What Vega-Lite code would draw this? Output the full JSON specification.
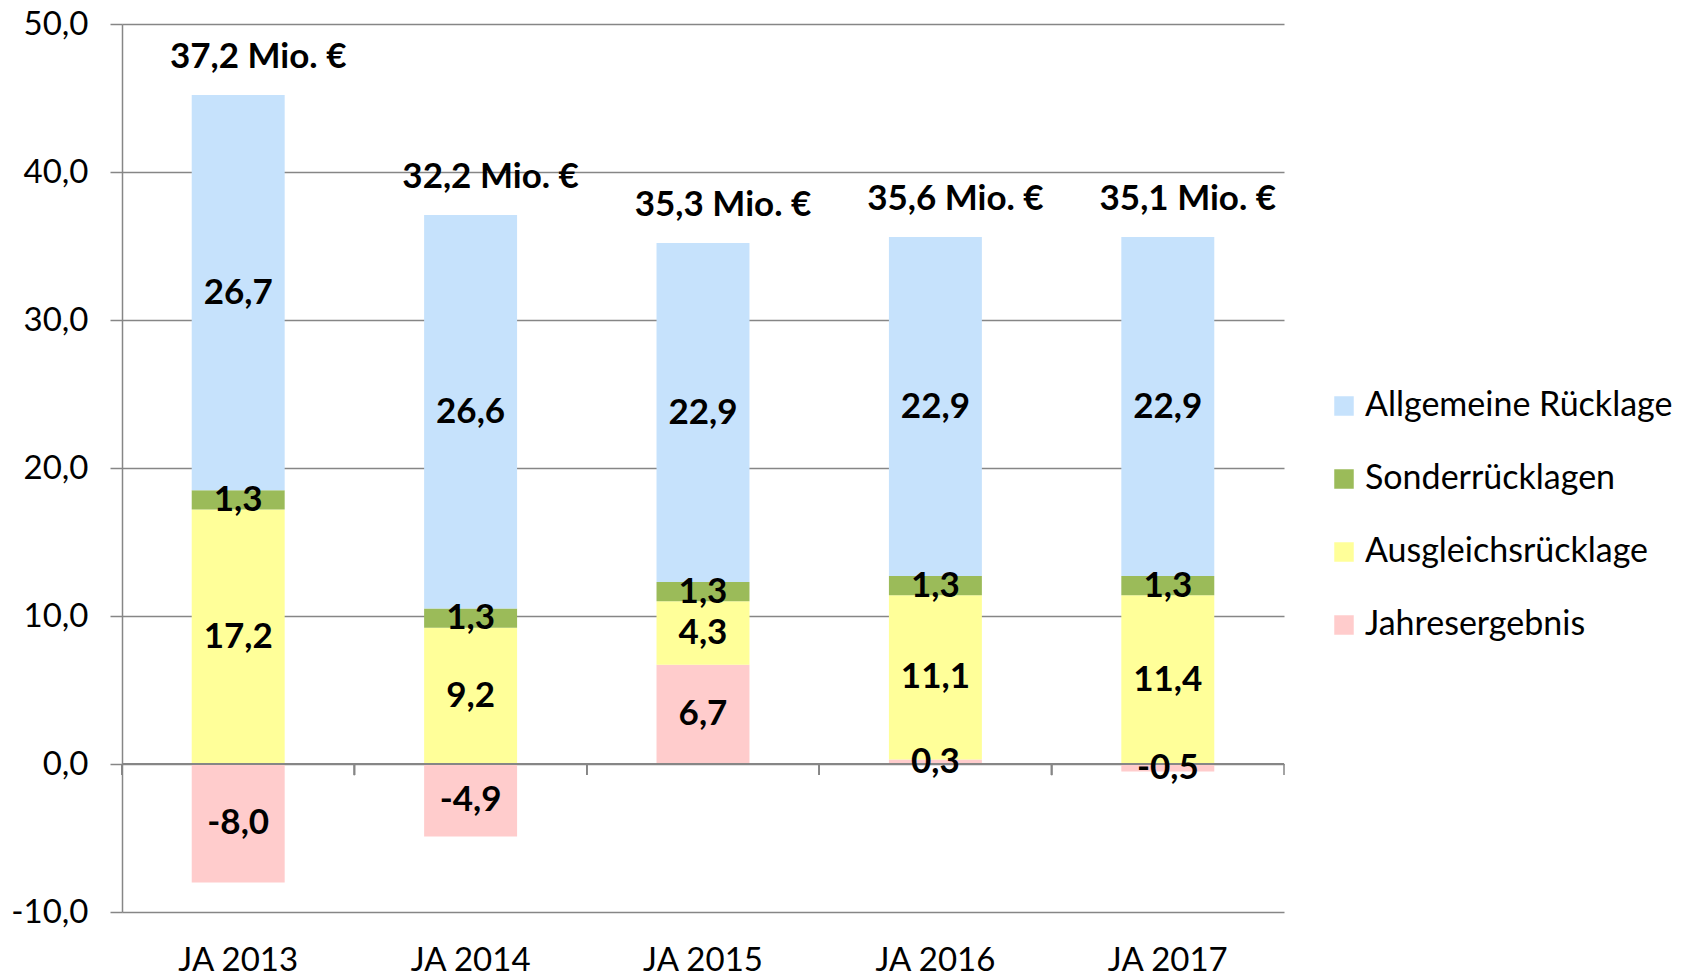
{
  "$schema": "https://vega.github.io/schema/vega-lite/v6.json",
  "width": 1162,
  "height": 888,
  "autosize": {"type": "none"},
  "padding": {"left": 122, "top": 24, "right": 405, "bottom": 65},
  "config": {
    "locale": {"number": {"decimal": ",", "thousands": ".", "grouping": [3], "currency": ["", " Mio. €"], "minus": "-"}},
    "font": "Lato",
    "view": {"stroke": null}
  },
  "datasets": {
    "segments": [
      {"year": "JA 2013", "cat": "Jahresergebnis", "value": -8.0, "order": 1},
      {"year": "JA 2013", "cat": "Ausgleichsrücklage", "value": 17.2, "order": 2},
      {"year": "JA 2013", "cat": "Sonderrücklagen", "value": 1.3, "order": 3},
      {"year": "JA 2013", "cat": "Allgemeine Rücklage", "value": 26.7, "order": 4},
      {"year": "JA 2014", "cat": "Jahresergebnis", "value": -4.9, "order": 1},
      {"year": "JA 2014", "cat": "Ausgleichsrücklage", "value": 9.2, "order": 2},
      {"year": "JA 2014", "cat": "Sonderrücklagen", "value": 1.3, "order": 3},
      {"year": "JA 2014", "cat": "Allgemeine Rücklage", "value": 26.6, "order": 4},
      {"year": "JA 2015", "cat": "Jahresergebnis", "value": 6.7, "order": 1},
      {"year": "JA 2015", "cat": "Ausgleichsrücklage", "value": 4.3, "order": 2},
      {"year": "JA 2015", "cat": "Sonderrücklagen", "value": 1.3, "order": 3},
      {"year": "JA 2015", "cat": "Allgemeine Rücklage", "value": 22.9, "order": 4},
      {"year": "JA 2016", "cat": "Jahresergebnis", "value": 0.3, "order": 1},
      {"year": "JA 2016", "cat": "Ausgleichsrücklage", "value": 11.1, "order": 2},
      {"year": "JA 2016", "cat": "Sonderrücklagen", "value": 1.3, "order": 3},
      {"year": "JA 2016", "cat": "Allgemeine Rücklage", "value": 22.9, "order": 4},
      {"year": "JA 2017", "cat": "Jahresergebnis", "value": -0.5, "order": 1},
      {"year": "JA 2017", "cat": "Ausgleichsrücklage", "value": 11.4, "order": 2},
      {"year": "JA 2017", "cat": "Sonderrücklagen", "value": 1.3, "order": 3},
      {"year": "JA 2017", "cat": "Allgemeine Rücklage", "value": 22.9, "order": 4}
    ],
    "totals": [
      {"year": "JA 2013", "total": 37.2},
      {"year": "JA 2014", "total": 32.2},
      {"year": "JA 2015", "total": 35.3},
      {"year": "JA 2016", "total": 35.6},
      {"year": "JA 2017", "total": 35.1}
    ]
  },
  "data": {"name": "segments"},
  "layer": [
    {
      "transform": [{"stack": "value", "groupby": ["year"], "sort": [{"field": "order"}], "as": ["v0", "v1"]}],
      "mark": {"type": "bar"},
      "encoding": {
        "x": {"field": "year", "type": "nominal", "scale": {"paddingInner": 0.6, "paddingOuter": 0.3},
              "axis": {"title": null, "labelAngle": 0, "labelFontSize": 33, "labelColor": "#000000", "labelPadding": 32, "domain": false, "ticks": false, "grid": false}},
        "y": {"field": "v0", "type": "quantitative", "scale": {"domain": [-10, 50], "nice": false},
              "axis": {"title": null, "values": [-10, 0, 10, 20, 30, 40, 50], "format": ".1f", "labelFontSize": 33, "labelColor": "#000000",
                       "domainColor": "#868686", "domainWidth": 1.5, "tickColor": "#868686", "tickWidth": 1.5, "tickSize": 12,
                       "gridColor": "#868686", "gridWidth": 1.5, "labelPadding": 22}},
        "y2": {"field": "v1"},
        "color": {"field": "cat", "type": "nominal",
                  "scale": {"domain": ["Allgemeine Rücklage", "Sonderrücklagen", "Ausgleichsrücklage", "Jahresergebnis"],
                            "range": ["#C6E2FC", "#9BBB59", "#FFFF99", "#FFCCCC"]},
                  "legend": {"title": null, "orient": "none", "legendX": 1205, "legendY": 365, "symbolType": "square", "symbolSize": 380,
                             "symbolStrokeWidth": 0, "labelFontSize": 34, "labelColor": "#000000", "rowPadding": 39, "labelOffset": 4, "labelLimit": 0}}
      }
    },
    {
      "mark": {"type": "rule", "color": "#868686", "strokeWidth": 2},
      "encoding": {"y": {"datum": 0, "type": "quantitative"}}
    },
    {
      "mark": {"type": "rule", "color": "#868686", "strokeWidth": 1.5},
      "encoding": {
        "x": {"field": "year", "type": "nominal", "bandPosition": -0.75},
        "y": {"datum": 0, "type": "quantitative"},
        "y2": {"datum": -0.75}
      }
    },
    {
      "transform": [{"filter": "datum.year === 'JA 2017' && datum.order === 1"}],
      "mark": {"type": "rule", "color": "#868686", "strokeWidth": 1.5},
      "encoding": {
        "x": {"field": "year", "type": "nominal", "bandPosition": 1.75},
        "y": {"datum": 0, "type": "quantitative"},
        "y2": {"datum": -0.75}
      }
    },
    {
      "transform": [
        {"stack": "value", "groupby": ["year"], "sort": [{"field": "order"}], "as": ["v0", "v1"]},
        {"calculate": "(datum.v0 + datum.v1) / 2", "as": "mid"}
      ],
      "mark": {"type": "text", "fontWeight": "bold", "fontSize": 35, "baseline": "middle", "color": "#000000"},
      "encoding": {
        "x": {"field": "year", "type": "nominal"},
        "y": {"field": "mid", "type": "quantitative"},
        "text": {"field": "value", "type": "quantitative", "format": ".1f"}
      }
    },
    {
      "transform": [
        {"filter": "datum.value > 0"},
        {"aggregate": [{"op": "sum", "field": "value", "as": "top"}], "groupby": ["year"]},
        {"lookup": "year", "from": {"data": {"name": "totals"}, "key": "year", "fields": ["total"]}}
      ],
      "mark": {"type": "text", "fontWeight": "bold", "fontSize": 35, "baseline": "middle", "color": "#000000", "dy": -38, "dx": 20},
      "encoding": {
        "x": {"field": "year", "type": "nominal"},
        "y": {"field": "top", "type": "quantitative"},
        "text": {"field": "total", "type": "quantitative", "format": "$.1f"}
      }
    }
  ]
}
